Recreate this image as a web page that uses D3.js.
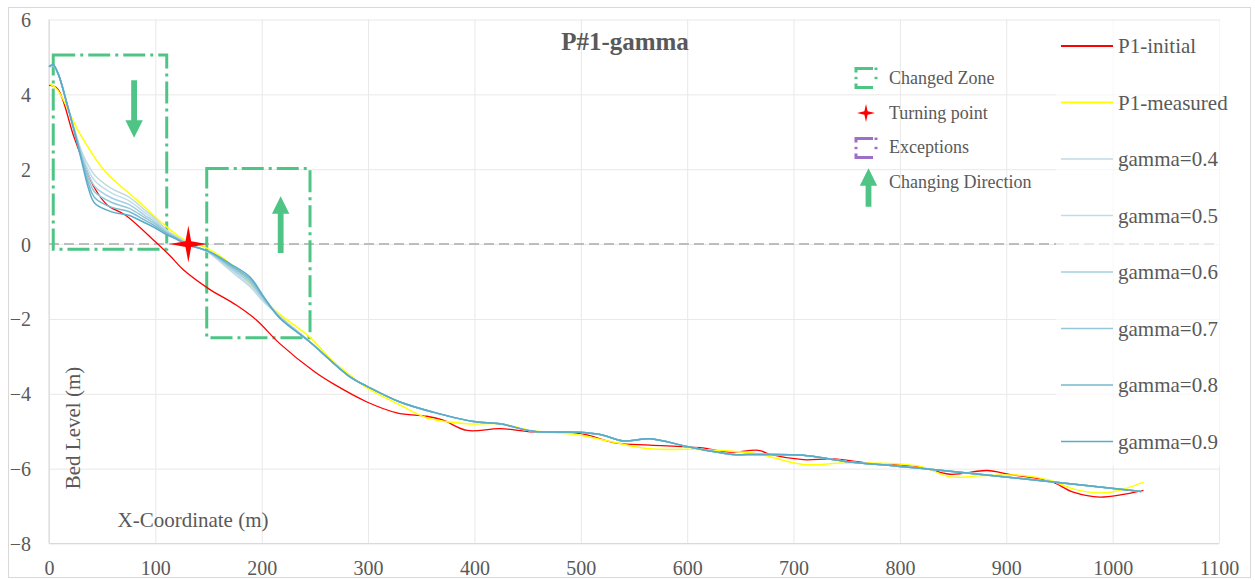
<!DOCTYPE html>
<html><head><meta charset="utf-8">
<script src="https://cdn.jsdelivr.net/npm/d3@7"></script>
<style>
body{margin:0;background:#fff}
text{font-family:"Liberation Serif","Times New Roman",serif}
</style>
</head><body>
<svg id="chart" width="1255" height="580"></svg>
<script>
// ---------- data ----------
const xTickValues = [0,100,200,300,400,500,600,700,800,900,1000,1100];
const yTickValues = [-8,-6,-4,-2,0,2,4,6];

const seriesNames = ["P1-initial","P1-measured","gamma=0.4","gamma=0.5","gamma=0.6","gamma=0.7","gamma=0.8","gamma=0.9"];
const seriesColors = ["#ff0000","#ffff00","#c3d9e3","#bfdde9","#a3d0e0","#93c6d8","#77b9d0","#5aabc7"];

const initialX = [0,8,24,43,55,72,100,114,126,150,176,195,217,250,267,299,327,355,370,393,424,455,499,534,565,612,640,667,678,709,737,775,816,847,882,904,941,963,988,1029];
const initialY = [4.25,4.15,2.82,1.49,1.04,0.77,0.06,-0.32,-0.68,-1.19,-1.63,-2.03,-2.66,-3.42,-3.73,-4.22,-4.51,-4.60,-4.70,-4.98,-4.93,-5.02,-5.06,-5.32,-5.37,-5.44,-5.56,-5.51,-5.62,-5.76,-5.74,-5.87,-5.94,-6.15,-6.05,-6.16,-6.33,-6.63,-6.76,-6.58];

const measuredX = [0,8,28,53,81,100,109,128,148,173,189,205,217,245,264,283,299,330,355,393,424,455,496,530,565,612,665,709,747,797,822,847,879,916,941,963,988,1004,1029];
const measuredY = [4.29,4.12,3.0,1.93,1.22,0.72,0.5,0.1,-0.1,-0.58,-1.05,-1.57,-1.88,-2.48,-3.05,-3.5,-3.84,-4.30,-4.64,-4.80,-4.80,-4.99,-5.09,-5.29,-5.47,-5.49,-5.60,-5.89,-5.85,-5.87,-5.96,-6.22,-6.18,-6.18,-6.31,-6.54,-6.65,-6.60,-6.36];

const gammaX = [0,4,9,17,24,31,37,43,59,75,90,100,110,120,130,150,170,189,202,217,245,283,299,330,361,399,424,455,499,520,540,565,602,643,665,709,747,800,854,929,1027];
const gamma04 = [4.72,4.76,4.52,3.75,3.05,2.45,2.10,1.84,1.48,1.26,0.91,0.68,0.39,0.20,0.03,-0.23,-0.70,-1.14,-1.55,-1.93,-2.60,-3.55,-3.80,-4.22,-4.49,-4.74,-4.80,-5.00,-5.03,-5.10,-5.26,-5.20,-5.42,-5.62,-5.62,-5.64,-5.80,-5.94,-6.09,-6.31,-6.61];
const gamma05 = [4.73,4.77,4.52,3.75,3.04,2.40,1.98,1.69,1.36,1.16,0.84,0.63,0.36,0.18,0.02,-0.22,-0.66,-1.09,-1.52,-1.94,-2.60,-3.55,-3.80,-4.22,-4.49,-4.74,-4.80,-5.00,-5.03,-5.10,-5.26,-5.20,-5.42,-5.62,-5.62,-5.64,-5.80,-5.94,-6.09,-6.31,-6.61];
const gamma06 = [4.73,4.77,4.52,3.74,3.02,2.35,1.86,1.54,1.23,1.06,0.77,0.58,0.34,0.17,0.01,-0.21,-0.63,-1.03,-1.49,-1.95,-2.61,-3.55,-3.80,-4.22,-4.49,-4.74,-4.80,-5.00,-5.03,-5.10,-5.26,-5.20,-5.42,-5.62,-5.62,-5.64,-5.80,-5.94,-6.09,-6.31,-6.61];
const gamma07 = [4.74,4.78,4.52,3.74,3.01,2.30,1.74,1.39,1.11,0.96,0.71,0.53,0.31,0.16,0.00,-0.20,-0.59,-0.98,-1.46,-1.96,-2.61,-3.55,-3.80,-4.22,-4.49,-4.74,-4.80,-5.00,-5.03,-5.10,-5.26,-5.20,-5.42,-5.62,-5.62,-5.64,-5.80,-5.94,-6.09,-6.31,-6.61];
const gamma08 = [4.74,4.78,4.52,3.73,3.00,2.24,1.62,1.24,0.98,0.87,0.64,0.48,0.29,0.14,-0.01,-0.20,-0.56,-0.93,-1.43,-1.97,-2.61,-3.55,-3.80,-4.22,-4.49,-4.74,-4.80,-5.00,-5.03,-5.10,-5.26,-5.20,-5.42,-5.62,-5.62,-5.64,-5.80,-5.94,-6.09,-6.31,-6.61];
const gamma09 = [4.75,4.79,4.52,3.73,2.98,2.18,1.50,1.09,0.86,0.77,0.57,0.43,0.26,0.13,-0.02,-0.19,-0.52,-0.88,-1.41,-1.98,-2.61,-3.55,-3.80,-4.22,-4.49,-4.74,-4.80,-5.00,-5.03,-5.10,-5.26,-5.20,-5.42,-5.62,-5.62,-5.64,-5.80,-5.94,-6.09,-6.31,-6.61];

// annotation positions (data coordinates)
const changedZones = [[4,110.7,5.05,-0.14],[148.3,245.4,2.02,-2.5]];  // x0,x1,yTop,yBottom
const directionArrows = [[80,4.38,2.84],[217.8,-0.24,1.28]];           // x, yStart, yTip
const turningPoint = [131,0];

// ---------- drawing ----------
const svg = d3.select("#chart");
const x = d3.scaleLinear().domain([0,1100]).range([49,1219]);
const y = d3.scaleLinear().domain([-8,6]).range([543.5,19.5]);
const green = "#4ec585";
const textCol = "#595959";
const serif = '"Liberation Serif", "Times New Roman", serif';

svg.append("rect").attr("x",8.5).attr("y",7.5).attr("width",1242).attr("height",570)
  .attr("fill","#fff").attr("stroke","#d9d9d9").attr("stroke-width",1);

// grid via axes
svg.append("g").attr("transform",`translate(0,${y(-8)})`)
  .call(d3.axisBottom(x).tickValues(xTickValues).tickSize(-(y(-8)-y(6))).tickFormat(""))
  .call(g=>{g.select(".domain").remove(); g.selectAll("line").attr("stroke","#e8e8e8");});
svg.append("g").attr("transform",`translate(${x(0)},0)`)
  .call(d3.axisLeft(y).tickValues(yTickValues).tickSize(-(x(1100)-x(0))).tickFormat(""))
  .call(g=>{g.select(".domain").remove(); g.selectAll("line").attr("stroke","#e8e8e8");});
svg.append("line").attr("x1",x(0)).attr("x2",x(0)).attr("y1",y(6)).attr("y2",y(-8)).attr("stroke","#d6d6d6");
svg.append("line").attr("x1",x(0)).attr("x2",x(1100)).attr("y1",y(-8)).attr("y2",y(-8)).attr("stroke","#d9d9d9");

// tick labels
svg.append("g").attr("transform",`translate(0,${y(-8)})`)
  .call(d3.axisBottom(x).tickValues(xTickValues).tickSize(0).tickPadding(0).tickFormat(d3.format("d")))
  .attr("font-family",serif).attr("font-size",20)
  .call(g=>{g.select(".domain").remove();
    g.selectAll("text").attr("y",31).attr("dy",0).attr("fill",textCol);});
svg.append("g").attr("transform",`translate(${x(0)},0)`)
  .call(d3.axisLeft(y).tickValues(yTickValues).tickSize(0).tickPadding(18).tickFormat(d3.format("d")))
  .attr("font-family",serif).attr("font-size",20)
  .call(g=>{g.select(".domain").remove();
    g.selectAll("text").attr("dy",7).attr("fill",textCol);});

// zero dashed line
svg.append("line").attr("x1",x(0)).attr("x2",x(1100)).attr("y1",y(0)).attr("y2",y(0))
  .attr("stroke","#bdbdbd").attr("stroke-width",2).attr("stroke-dasharray","10,5");

// changed zones
svg.selectAll("rect.zone").data(changedZones).enter().append("rect").attr("class","zone")
  .attr("x",d=>x(d[0])).attr("y",d=>y(d[2])).attr("width",d=>x(d[1])-x(d[0])).attr("height",d=>y(d[3])-y(d[2]))
  .attr("fill","none").attr("stroke",green).attr("stroke-width",3).attr("stroke-dasharray","22,5,3,5");

// series
const line = d3.line().x(d=>x(d[0])).y(d=>y(d[1])).curve(d3.curveCatmullRom.alpha(0.5));
const seriesData = [
  d3.zip(initialX, initialY), d3.zip(measuredX, measuredY),
  d3.zip(gammaX, gamma04), d3.zip(gammaX, gamma05), d3.zip(gammaX, gamma06),
  d3.zip(gammaX, gamma07), d3.zip(gammaX, gamma08), d3.zip(gammaX, gamma09)
];
svg.append("g").selectAll("path").data(seriesData).enter().append("path")
  .attr("d",line).attr("fill","none")
  .attr("stroke",(d,i)=>seriesColors[i])
  .attr("stroke-width",(d,i)=>i===0?1.3:1.5);

// arrows
function arrowPath(cx, ys, yt){
  const dir = yt>ys?1:-1, hw=8.7, sw=2.9, hh=17.5;
  const yb = yt - dir*hh;
  return `M${cx-sw},${ys}L${cx+sw},${ys}L${cx+sw},${yb}L${cx+hw},${yb}L${cx},${yt}L${cx-hw},${yb}L${cx-sw},${yb}Z`;
}
svg.selectAll("path.arrow").data(directionArrows).enter().append("path").attr("class","arrow")
  .attr("d",d=>arrowPath(x(d[0]),y(d[1]),y(d[2]))).attr("fill",green);

// star
function starPath(cx,cy,R,r){
  const pts=[];
  for(let k=0;k<8;k++){const a=-Math.PI/2+k*Math.PI/4; const rr=k%2?r:R; pts.push([cx+rr*Math.cos(a),cy+rr*Math.sin(a)]);}
  return "M"+pts.map(p=>p.join(",")).join("L")+"Z";
}
svg.append("path").attr("d",starPath(x(turningPoint[0]),y(turningPoint[1]),18.5,4)).attr("fill","#ff0000");

// title
svg.append("text").attr("x",625).attr("y",50).attr("text-anchor","middle")
  .attr("fill",textCol).style("font-size","25px").style("font-weight","bold").text("P#1-gamma");

// axis titles
svg.append("text").attr("transform","translate(80,428) rotate(-90)").attr("text-anchor","middle")
  .attr("fill",textCol).style("font-size","21px").text("Bed Level (m)");
svg.append("text").attr("x",193).attr("y",527).attr("text-anchor","middle")
  .attr("fill",textCol).style("font-size","21px").text("X-Coordinate (m)");

// right legend
svg.append("rect").attr("x",1056).attr("y",21).attr("width",164).attr("height",445).attr("fill","#fff").attr("opacity",0.65);
const lg = svg.append("g");
seriesNames.forEach((n,i)=>{
  const yy = 46 + i*56.5;
  lg.append("line").attr("x1",1061).attr("x2",1113).attr("y1",yy).attr("y2",yy)
    .attr("stroke",seriesColors[i]).attr("stroke-width",i<2?1.8:1.5);
  lg.append("text").attr("x",1118).attr("y",yy+7).attr("fill",textCol).style("font-size","21px").text(n);
});

// inner legend
const il = svg.append("g");
const innerLabels = ["Changed Zone","Turning point","Exceptions","Changing Direction"];
const innerBase = [84,118.5,153,188];
innerLabels.forEach((t,i)=>{
  il.append("text").attr("x",889).attr("y",innerBase[i]).attr("fill",textCol).style("font-size","18px").text(t);
});
function zoneIcon(cy,col){
  const g = il.append("g").attr("stroke",col).attr("stroke-width",3).attr("fill","none");
  const x0=856,x1=875,t=cy-9.5,b=cy+9.5;
  g.append("path").attr("d",`M${x0},${t+4}L${x0},${t}L${x1-2},${t}`);
  g.append("path").attr("d",`M${x0},${b-4}L${x0},${b}L${x1-2},${b}`);
  g.append("line").attr("x1",x0).attr("x2",x0).attr("y1",cy-1.2).attr("y2",cy+1.2);
  g.append("line").attr("x1",x1+1).attr("x2",x1+1).attr("y1",t-1).attr("y2",t+1.5);
  g.append("line").attr("x1",x1+1).attr("x2",x1+1).attr("y1",cy-1.2).attr("y2",cy+1.2);
}
zoneIcon(78,green);
il.append("path").attr("d",starPath(866,113,9,2.3)).attr("fill","#ff0000");
zoneIcon(148,"#9e6fc6");
il.append("path").attr("d",arrowPath(868.5,206.7,168.3)).attr("fill",green);
</script>
</body></html>
